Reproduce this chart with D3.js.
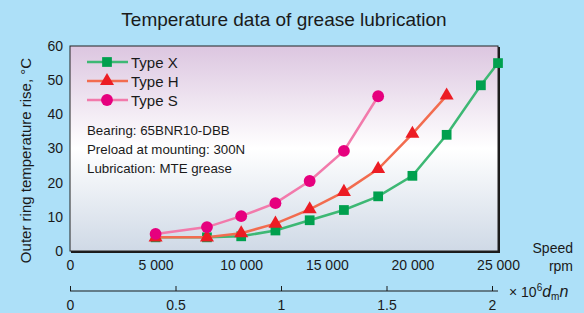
<!DOCTYPE html>
<html>
<head>
<meta charset="utf-8">
<script src="https://cdn.jsdelivr.net/npm/d3@7"></script>
<style>
  body { margin: 0; background: #ade0f8; }
  svg { display: block; font-family: "Liberation Sans", Arial, sans-serif; }
</style>
</head>
<body>
<div id="chart"></div>
<script>
// data
const seriesNames = ["Type X", "Type H", "Type S"];
const speedX = [5000, 8000, 10000, 12000, 14000, 16000, 18000, 20000, 22000, 24000, 25000];
const tempX = [4, 4, 4.3, 6, 9, 12, 16, 22, 34, 48.5, 55];
const speedH = [5000, 8000, 10000, 12000, 14000, 16000, 18000, 20000, 22000];
const tempH = [4, 4, 5.2, 8, 12.2, 17.3, 24, 34.3, 45.5];
const speedS = [5000, 8000, 10000, 12000, 14000, 16000, 18000];
const tempS = [5, 7, 10.2, 14, 20.5, 29.3, 45.3];
const yTicks = [0, 10, 20, 30, 40, 50, 60];
const xTicks = [0, 5000, 10000, 15000, 20000, 25000];
const dmnTicks = [0, 0.5, 1, 1.5, 2];
const notes = ["Bearing: 65BNR10-DBB", "Preload at mounting: 300N", "Lubrication: MTE grease"];

const width = 584, height = 313;
const margin = { left: 70, right: 86, top: 46, bottom: 62 };
const innerWidth = width - margin.left - margin.right;
const innerHeight = height - margin.top - margin.bottom;
const ink = "#1a1a1a";

const svg = d3.select("#chart").append("svg")
  .attr("width", width)
  .attr("height", height);

const defs = svg.append("defs");
const grad = defs.append("linearGradient")
  .attr("id", "bg").attr("x1", 0).attr("y1", 0).attr("x2", 0).attr("y2", 1);
grad.append("stop").attr("offset", "0%").attr("stop-color", "#dcc6e0");
grad.append("stop").attr("offset", "50%").attr("stop-color", "#ffffff");
grad.append("stop").attr("offset", "100%").attr("stop-color", "#cfd9e6");

svg.append("text")
  .attr("x", 284).attr("y", 26)
  .attr("text-anchor", "middle")
  .attr("font-size", 19)
  .attr("fill", ink)
  .text("Temperature data of grease lubrication");

const g = svg.append("g")
  .attr("transform", `translate(${margin.left}, ${margin.top})`);

const x = d3.scaleLinear().domain([0, 25000]).range([0, innerWidth]);
const y = d3.scaleLinear().domain([0, 60]).range([innerHeight, 0]);
const xDmn = d3.scaleLinear().domain([0, 2]).range([0, x(25000) * 422 / 428]);

// plot background
g.append("rect")
  .attr("x", 1).attr("y", 1)
  .attr("width", innerWidth + 1).attr("height", innerHeight + 1)
  .attr("fill", ink);
g.append("rect")
  .attr("width", innerWidth).attr("height", innerHeight)
  .attr("fill", "url(#bg)")
  .attr("stroke", "#222").attr("stroke-width", 1);

// axes
const yAxis = g.append("g")
  .call(d3.axisLeft(y).tickValues(yTicks).tickSize(0).tickPadding(7));
yAxis.select(".domain").remove();
yAxis.selectAll("text").attr("font-size", 14).attr("fill", ink)
  .attr("font-family", "Liberation Sans, Arial, sans-serif");

const xAxis = g.append("g")
  .attr("transform", `translate(0, ${innerHeight})`)
  .call(d3.axisBottom(x).tickValues(xTicks).tickSize(0).tickPadding(9)
    .tickFormat(d => d3.format(",")(d).replace(",", " ")));
xAxis.select(".domain").remove();
xAxis.selectAll("text").attr("font-size", 14).attr("fill", ink)
  .attr("font-family", "Liberation Sans, Arial, sans-serif");

g.append("text")
  .attr("transform", "rotate(-90)")
  .attr("x", -innerHeight / 2 - 12).attr("y", -39)
  .attr("text-anchor", "middle")
  .attr("font-size", 15)
  .attr("fill", ink)
  .text("Outer ring temperature rise, °C");

svg.append("text").attr("x", 573).attr("y", 253)
  .attr("text-anchor", "end").attr("font-size", 14).attr("fill", ink).text("Speed");
svg.append("text").attr("x", 573).attr("y", 271)
  .attr("text-anchor", "end").attr("font-size", 14).attr("fill", ink).text("rpm");

// dmn axis
const dmnY = 291 - margin.top;
const dmnAxis = g.append("g")
  .attr("transform", `translate(0, ${dmnY})`)
  .call(d3.axisTop(xDmn).tickValues(dmnTicks).tickSize(5).tickSizeOuter(0)
    .tickFormat(d3.format("")));
dmnAxis.select(".domain").attr("d", `M0,0H${innerWidth}`).attr("stroke", ink);
dmnAxis.selectAll(".tick line").attr("stroke", ink);
dmnAxis.selectAll("text")
  .attr("y", 9).attr("dy", "0.71em")
  .attr("font-size", 14).attr("fill", ink)
  .attr("font-family", "Liberation Sans, Arial, sans-serif");

const dmnLabel = svg.append("text")
  .attr("x", 509).attr("y", 297)
  .attr("font-size", 14).attr("fill", ink);
dmnLabel.append("tspan").text("× 10");
dmnLabel.append("tspan").attr("dy", -6).attr("font-size", 10).text("6");
dmnLabel.append("tspan").attr("dy", 6).attr("font-style", "italic").attr("font-size", 16).text("d");
dmnLabel.append("tspan").attr("dy", 3).attr("font-size", 10).text("m");
dmnLabel.append("tspan").attr("dy", -3).attr("font-style", "italic").attr("font-size", 16).text("n");

// series
const series = [
  { name: seriesNames[0], speed: speedX, temp: tempX, line: "#3db874", mark: "#00a04e", shape: d3.symbolSquare, size: 95 },
  { name: seriesNames[1], speed: speedH, temp: tempH, line: "#f26c4f", mark: "#ec1c24", shape: d3.symbolTriangle, size: 85 },
  { name: seriesNames[2], speed: speedS, temp: tempS, line: "#f27aab", mark: "#e6007e", shape: d3.symbolCircle, size: 110 }
];

const line = d3.line().x(d => x(d[0])).y(d => y(d[1]));

series.forEach(s => {
  const pts = s.speed.map((v, i) => [v, s.temp[i]]);
  g.append("path")
    .datum(pts)
    .attr("d", line)
    .attr("fill", "none")
    .attr("stroke", s.line)
    .attr("stroke-width", 2.5);
  g.selectAll(null)
    .data(pts)
    .enter()
    .append("path")
    .attr("transform", d => `translate(${x(d[0])}, ${y(d[1])})`)
    .attr("d", d3.symbol().type(s.shape).size(s.size))
    .attr("fill", s.mark);
});

// legend
const legend = g.append("g").attr("transform", "translate(17, 16)");
series.forEach((s, i) => {
  const row = legend.append("g").attr("transform", `translate(0, ${i * 19})`);
  row.append("line").attr("x1", 0).attr("x2", 41)
    .attr("stroke", s.line).attr("stroke-width", 2.5);
  row.append("path")
    .attr("transform", "translate(20, 0)")
    .attr("d", d3.symbol().type(s.shape).size(s.size))
    .attr("fill", s.mark);
  row.append("text").attr("x", 44).attr("y", 5.5)
    .attr("font-size", 15).attr("fill", ink).text(s.name);
});

notes.forEach((t, i) => {
  g.append("text")
    .attr("x", 17).attr("y", 89 + i * 19)
    .attr("font-size", 13.3).attr("fill", ink)
    .text(t);
});
</script>
</body>
</html>
